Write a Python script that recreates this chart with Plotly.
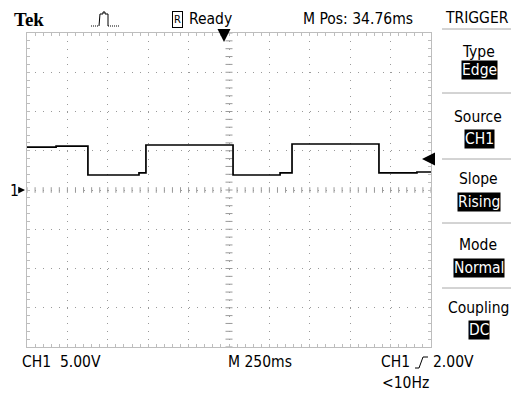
import plotly.graph_objects as go

time_ms = [-1250, -1070, -873, -557, -514, 25, 316, 390, 928, 1163, 1250]
volts = [5.45, 5.6, 1.91, 2.17, 5.73, 1.91, 2.17, 5.86, 2.17, 2.29, 2.29]

ms_per_div = 250
v_per_div = 5
n_xdiv = 10
n_ydiv = 8
trig_time_ms = -31
trig_level_v = 3.95
ground_v = 0

top_labels = ["Tek", "Ready", "M Pos: 34.76ms"]
menu_title = "TRIGGER"
menu_labels = ["Type", "Source", "Slope", "Mode", "Coupling"]
menu_values = ["Edge", "CH1", "Rising", "Normal", "DC"]
bottom_labels = ["CH1\u00a0\u00a05.00V", "M 250ms", "CH1", "2.00V", "<10Hz"]

# ---------------- layout geometry ----------------
W, H = 511, 394
L, R, T, B = 27, 431, 33, 347
xr = [-n_xdiv / 2 * ms_per_div, n_xdiv / 2 * ms_per_div]
yr = [-n_ydiv / 2 * v_per_div, n_ydiv / 2 * v_per_div]


def px(x):
    return (x - L) / (R - L)


def py(y):
    return (B - y) / (B - T)


FONT = "DejaVu Sans Condensed, Liberation Sans Narrow, sans-serif"
FS = 15.5
GRID = "#9a9a9a"
BORDER = "#bdbdbd"

fig = go.Figure()

# center-line graticule ticks
xc_ticks = [i * ms_per_div / 5 for i in range(-n_xdiv * 5 // 2, n_xdiv * 5 // 2 + 1)]
yc_ticks = [i * v_per_div / 5 for i in range(-n_ydiv * 5 // 2, n_ydiv * 5 // 2 + 1)]
fig.add_trace(go.Scatter(x=xc_ticks, y=[0] * len(xc_ticks), mode="markers",
                         marker=dict(symbol="line-ns", size=4, line=dict(width=1, color=GRID)),
                         hoverinfo="skip", showlegend=False, cliponaxis=False))
fig.add_trace(go.Scatter(x=[0] * len(yc_ticks), y=yc_ticks, mode="markers",
                         marker=dict(symbol="line-ew", size=5, line=dict(width=1, color=GRID)),
                         hoverinfo="skip", showlegend=False, cliponaxis=False))

# waveform
fig.add_trace(go.Scatter(x=time_ms, y=volts, mode="lines", line=dict(color="black", width=1.7, shape="hv"),
                         hoverinfo="skip", showlegend=False))

fig.update_layout(
    width=W, height=H,
    margin=dict(l=L, r=W - R, t=T, b=H - B, pad=0),
    paper_bgcolor="white", plot_bgcolor="white",
    showlegend=False,
    font=dict(family=FONT, size=FS, color="black"),
    xaxis=dict(range=xr, dtick=ms_per_div, tick0=0, showticklabels=False, zeroline=False,
               showgrid=True, gridcolor=GRID, griddash="1px,6.85px", gridwidth=1,
               showline=True, linecolor=BORDER, linewidth=1, mirror="ticks",
               ticks="inside", ticklen=3, tickcolor=BORDER,
               minor=dict(dtick=ms_per_div / 5, ticks="inside", ticklen=3, tickcolor=BORDER, showgrid=False),
               fixedrange=True),
    yaxis=dict(range=yr, dtick=v_per_div, tick0=0, showticklabels=False, zeroline=False,
               showgrid=True, gridcolor=GRID, griddash="1px,7.08px", gridwidth=1,
               showline=True, linecolor=BORDER, linewidth=1, mirror="ticks",
               ticks="inside", ticklen=3, tickcolor=BORDER,
               minor=dict(dtick=v_per_div / 5, ticks="inside", ticklen=3, tickcolor=BORDER, showgrid=False),
               fixedrange=True),
)

ann = []


def txt(text, x, y, xanchor="left", size=FS, family=FONT, **kw):
    ann.append(dict(text=text, x=px(x), y=py(y), xref="paper", yref="paper", xanchor=xanchor,
                    yanchor="middle", showarrow=False,
                    font=dict(family=family, size=size, color=kw.pop("color", "black")), **kw))


# top bar
txt("<b>" + top_labels[0] + "</b>", 12, 19, size=19, family="Liberation Serif, DejaVu Serif, serif")
txt("R", 177.5, 19, xanchor="center", size=11, bordercolor="black", borderwidth=1, borderpad=1)
txt(top_labels[1], 187, 19)
txt(top_labels[2], 301, 19)
txt(menu_title, 477, 18, xanchor="center")

# menu
lab_y = [52, 117, 179, 245, 308]
val_y = [70, 139, 202, 268, 330]
for lab, val, ly, vy in zip(menu_labels, menu_values, lab_y, val_y):
    txt(lab, 478, ly, xanchor="center")
    txt(val, 479, vy, xanchor="center", color="white", bgcolor="black", borderpad=0)

# bottom
txt(bottom_labels[0], 20, 362)
txt(bottom_labels[1], 226, 362)
txt(bottom_labels[2], 379, 362)
txt(bottom_labels[3], 431, 362)
txt(bottom_labels[4], 380, 383)

# ground marker
txt("1", 8, 191)

# arrows: trigger position (top), trigger level (right), ground (left)
ann.append(dict(x=trig_time_ms, y=yr[1] - (9 / (B - T)) * (yr[1] - yr[0]), xref="x", yref="y", ax=0, ay=-14,
                showarrow=True, arrowhead=2, arrowsize=1.3, arrowwidth=2, arrowcolor="black", text=""))
ann.append(dict(x=px(422), y=trig_level_v, xref="paper", yref="y", ax=10, ay=0,
                showarrow=True, arrowhead=2, arrowsize=1.3, arrowwidth=2, arrowcolor="black", text=""))
ann.append(dict(x=px(25), y=ground_v, xref="paper", yref="y", ax=-8, ay=0,
                showarrow=True, arrowhead=2, arrowsize=0.9, arrowwidth=1.5, arrowcolor="black", text=""))
fig.update_layout(annotations=ann)

# shapes: menu separators, pulse icon, slope icon
shapes = []
for sy in [29, 93, 159, 223, 288]:
    shapes.append(dict(type="line", xref="paper", yref="paper", x0=px(442), x1=px(511), y0=py(sy), y1=py(sy),
                       line=dict(color="#a8a8a8", width=1)))


def path(pts):
    return "M" + " L".join(f"{px(a):.5f},{py(b):.5f}" for a, b in pts)


shapes.append(dict(type="path", xref="paper", yref="paper", path=path([(91, 26), (99, 26)]),
                   line=dict(color="black", width=1, dash="1px,1px")))
shapes.append(dict(type="path", xref="paper", yref="paper",
                   path=path([(99, 26), (100, 14), (103, 14), (103, 12), (105, 12), (105, 14), (108, 14), (108, 26)]),
                   line=dict(color="black", width=1)))
shapes.append(dict(type="path", xref="paper", yref="paper", path=path([(108, 26), (120, 26)]),
                   line=dict(color="black", width=1, dash="1px,1px")))
shapes.append(dict(type="path", xref="paper", yref="paper",
                   path=path([(415, 368), (419, 368), (423, 357), (428, 357)]),
                   line=dict(color="black", width=1)))
fig.update_layout(shapes=shapes)

fig.write_html("out.html", config={"displayModeBar": False},
               post_script="document.body.style.margin='0';document.body.style.padding='0';")
